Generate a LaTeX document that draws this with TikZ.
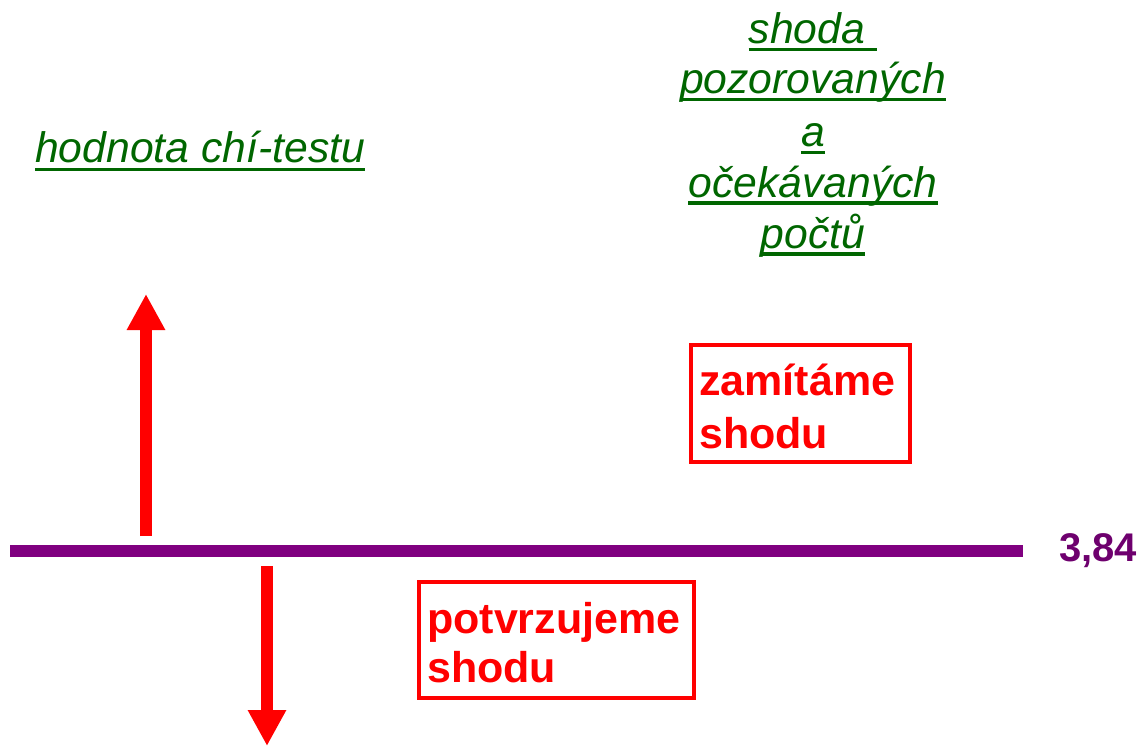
\documentclass[tikz,border=0pt]{standalone}
\usepackage{fontspec}
\setmainfont{Liberation Sans}
\usetikzlibrary{arrows.meta}
\definecolor{dgreen}{RGB}{0,102,0}
\definecolor{lpurple}{RGB}{128,0,128}
\definecolor{tpurple}{RGB}{110,0,110}
\definecolor{fred}{RGB}{255,0,0}
\tikzset{
  gtext/.style={inner sep=0pt, text=dgreen, font=\fontsize{42.7}{50}\selectfont\itshape},
  uline/.style={draw=dgreen, line width=3.5pt},
  rtext/.style={inner sep=0pt, anchor=base west, text=fred, font=\fontsize{43}{50}\selectfont\bfseries},
  rbox/.style={draw=fred, line width=4.5pt, inner sep=0pt},
  bigarrow/.style={draw=fred, line width=12pt, -{Triangle[width=36pt,length=36pt]}},
}
\begin{document}
\begin{tikzpicture}[x=1pt,y=-1pt]
\useasboundingbox (0,0) rectangle (1148,746);
% threshold line
\coordinate (l1) at (10,551);
\coordinate (l2) at (1023,551);
\draw[lpurple, line width=12pt] (l1) -- (l2);
\node[inner sep=0pt, anchor=base west, text=tpurple, font=\fontsize{40}{48}\selectfont\bfseries] (val) at (1059,561.5) {3,84};
% green labels
\node[gtext, anchor=base west] (hod) at (35,163) {hodnota chí-testu};
\draw[uline] ([yshift=-6.5pt]hod.base west) -- ([yshift=-6.5pt]hod.base east);
\node[gtext, anchor=base] (s1) at (813,43.5) {shoda\hspace*{0.278em}};
\node[gtext, anchor=base] (s2) at (813,93.5) {pozorovaných};
\node[gtext, anchor=base] (s3) at (813,146.5) {a};
\node[gtext, anchor=base] (s4) at (813,197) {očekávaných};
\node[gtext, anchor=base] (s5) at (813,248) {počtů};
\foreach \n in {s1,s2,s3,s4,s5}{
  \draw[uline] ([yshift=-6pt]\n.base west) -- ([yshift=-6pt]\n.base east);
}
% arrows
\coordinate (ua1) at (146,536);
\coordinate (ua2) at (146,294);
\draw[bigarrow] (ua1) -- (ua2);
\coordinate (da1) at (267,566);
\coordinate (da2) at (267,746);
\draw[bigarrow] (da1) -- (da2);
% boxes
\node[rbox, minimum width=219pt, minimum height=117pt] (zbox) at (800.5,403.5) {};
\node[rtext] (z1) at (699,395) {zamítáme};
\node[rtext] (z2) at (699,448) {shodu};
\node[rbox, minimum width=275pt, minimum height=116pt] (pbox) at (556.5,640) {};
\node[rtext] (p1) at (427,633) {potvrzujeme};
\node[rtext] (p2) at (427,682) {shodu};
\end{tikzpicture}
\end{document}
